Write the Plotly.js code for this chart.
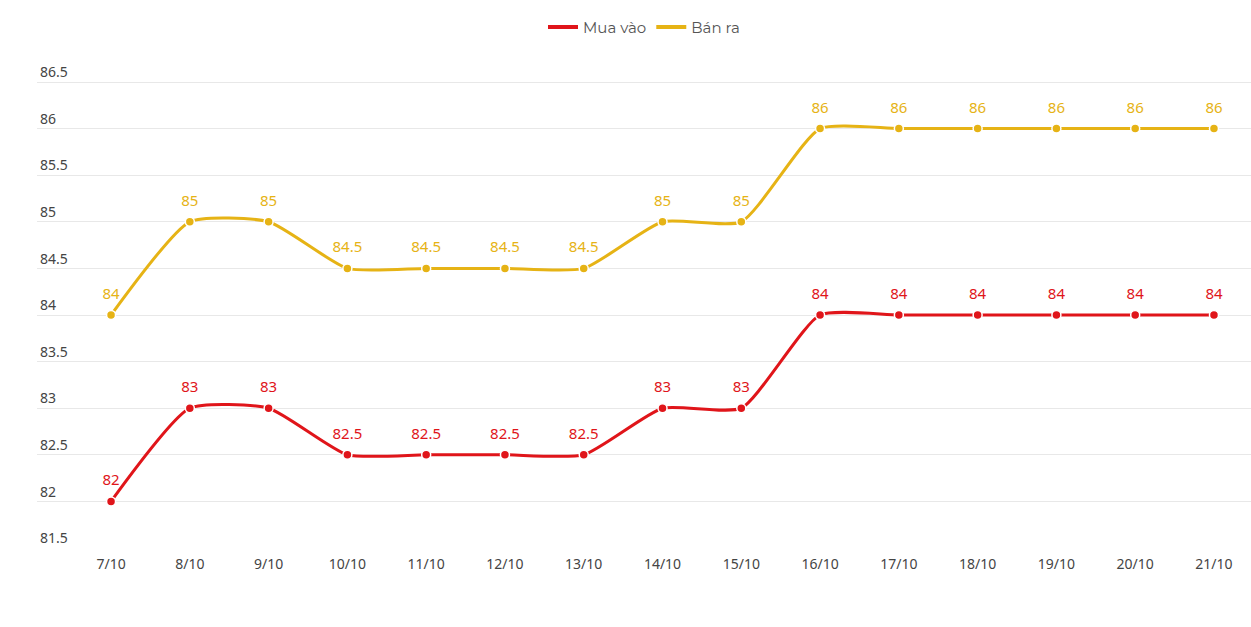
<!DOCTYPE html>
<html>
<head>
<meta charset="utf-8">
<script src="https://cdn.plot.ly/plotly-3.0.1.min.js"></script>
<style>html,body{margin:0;padding:0;background:#fff;}#chart{width:1251px;height:627px;}</style>
</head>
<body>
<div id="chart"></div>
<script>
const dates = ["7/10","8/10","9/10","10/10","11/10","12/10","13/10","14/10","15/10","16/10","17/10","18/10","19/10","20/10","21/10"];
const muaVao = [82,83,83,82.5,82.5,82.5,82.5,83,83,84,84,84,84,84,84];
const banRa = [84,85,85,84.5,84.5,84.5,84.5,85,85,86,86,86,86,86,86];
const yTicks = [81.5,82,82.5,83,83.5,84,84.5,85,85.5,86,86.5];

const red = "#e0151a";
const gold = "#e6b315";

function series(name, vals, color) {
  return [
    { // line + markers
      x: dates, y: vals, name: name, type: "scatter", mode: "lines+markers",
      line: {color: color, width: 3, shape: "spline", smoothing: 0.55},
      marker: {color: color, size: 9, line: {color: "#fff", width: 1.5}},
      showlegend: false, cliponaxis: false, hoverinfo: "x+y"
    },
    { // value labels
      x: dates, y: vals, name: name, type: "scatter", mode: "markers+text",
      marker: {color: color, size: 18, opacity: 0},
      text: vals.map(String), textposition: "top center",
      textfont: {color: color, size: 15, family: "Noto Sans, sans-serif"},
      showlegend: false, cliponaxis: false, hoverinfo: "skip"
    },
    { // legend entry (line only)
      x: [null], y: [null], name: name, type: "scatter", mode: "lines",
      line: {color: color, width: 4}, showlegend: true
    }
  ];
}

const data = [].concat(series("Mua vào", muaVao, red), series("Bán ra", banRa, gold));

const layout = {
  width: 1251, height: 627,
  margin: {l: 37, r: 0, t: 60, b: 79},
  paper_bgcolor: "#fff", plot_bgcolor: "#fff",
  showlegend: true,
  legend: {orientation: "h", x: 0.5, xanchor: "center", y: 1.067, yanchor: "middle",
    font: {family: "Montserrat, Noto Sans, sans-serif", size: 15, color: "#555"}},
  xaxis: {type: "category", range: [-0.94, 14.47], showgrid: false, zeroline: false,
    showline: false, ticks: "", ticklabelstandoff: 6,
    tickfont: {family: "Noto Sans, sans-serif", size: 14, color: "#444"}},
  yaxis: {range: [81.5, 86.736], tickvals: yTicks, ticktext: yTicks.map(String),
    ticklabelposition: "inside top", showgrid: true, gridcolor: "#e8e8e8", gridwidth: 1,
    zeroline: false, showline: false, ticks: "",
    tickfont: {family: "Noto Sans, sans-serif", size: 14, color: "#444"}},
  font: {family: "Noto Sans, sans-serif"}
};

Plotly.newPlot("chart", data, layout, {displayModeBar: false, staticPlot: true});
</script>
</body>
</html>
